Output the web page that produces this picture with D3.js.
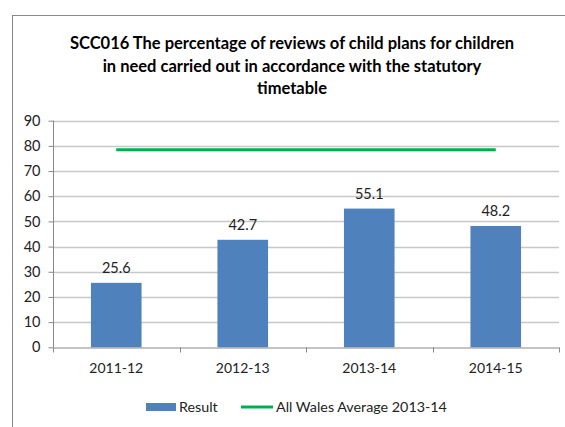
<!DOCTYPE html>
<html><head><meta charset="utf-8">
<script src="https://cdn.jsdelivr.net/npm/d3@7"></script>
<style>body{margin:0;background:#fff;} svg{display:block;font-family:Lato, "Open Sans", sans-serif;}</style>
</head><body>
<svg id="c" width="565" height="427"></svg>
<script>
const categories = ["2011-12","2012-13","2013-14","2014-15"];
const results = [25.6, 42.7, 55.1, 48.2];
const walesAverage = 78.5;
const yTicks = [0,10,20,30,40,50,60,70,80,90];
const titleLines = ["SCC016 The percentage of reviews of child plans for children","in need carried out in accordance with the statutory","timetable"];

const svg = d3.select("#c");
svg.append("rect").attr("x",12.5).attr("y",15.5).attr("width",560).attr("height",420)
  .attr("fill","#fff").attr("stroke","#888").attr("stroke-width",1);

const m = {left:53, right:559, top:120.7, bottom:347.3};
const x = d3.scaleBand().domain(categories).range([m.left, m.right]).paddingInner(0.6).paddingOuter(0.3);
const xc = d3.scaleBand().domain(categories).range([m.left, m.right]);
const y = d3.scaleLinear().domain([0,90]).range([m.bottom, m.top]);

// title
svg.append("text").attr("text-anchor","middle").attr("font-weight","bold").attr("font-size",16.5).attr("fill","#000")
  .selectAll("tspan").data(titleLines).join("tspan")
  .attr("x",292).attr("y",(d,i)=>49+i*22.5).text(d=>d);

// gridlines
svg.append("g").selectAll("line").data(yTicks.filter(d=>d>0)).join("line")
  .attr("x1",m.left).attr("x2",m.right).attr("y1",d=>Math.round(y(d))+0.5).attr("y2",d=>Math.round(y(d))+0.5)
  .attr("stroke","#c8c8c8").attr("stroke-width",1.3);

// y axis
const ya = svg.append("g").attr("transform",`translate(${m.left+0.5},0)`)
  .call(d3.axisLeft(y).tickValues(yTicks).tickSize(5).tickPadding(8));
ya.select(".domain").attr("stroke","#888").attr("d",`M0,${y(90)}V${y(0)}`);
ya.selectAll(".tick line").attr("stroke","#888");
ya.selectAll("text").attr("font-size",14.5).attr("fill","#222").attr("font-family","Lato, 'Open Sans', sans-serif");

// x axis
const xa = svg.append("g").attr("transform",`translate(0,${Math.round(m.bottom)+0.5})`)
  .call(d3.axisBottom(xc).tickSize(0).tickPadding(16));
xa.select(".domain").attr("stroke","#888");
xa.selectAll("text").attr("font-size",14).attr("fill","#222").attr("font-family","Lato, 'Open Sans', sans-serif");
xa.selectAll(".xt").data([...categories.map(c=>xc(c)), m.right]).join("line").attr("class","xt")
  .attr("x1",d=>Math.round(d)+0.5).attr("x2",d=>Math.round(d)+0.5).attr("y1",0).attr("y2",5).attr("stroke","#888");

// bars
svg.append("g").selectAll("rect").data(results).join("rect")
  .attr("x",(d,i)=>x(categories[i])).attr("width",x.bandwidth())
  .attr("y",d=>y(d)).attr("height",d=>y(0)-y(d)).attr("fill","#4F81BD");

// labels
svg.append("g").selectAll("text").data(results).join("text")
  .attr("x",(d,i)=>x(categories[i])+x.bandwidth()/2).attr("y",d=>y(d)-10)
  .attr("text-anchor","middle").attr("font-size",14.5).attr("fill","#222").text(d=>d.toFixed(1));

// average line
svg.append("line").attr("x1",xc(categories[0])+xc.bandwidth()/2).attr("x2",xc(categories[3])+xc.bandwidth()/2)
  .attr("y1",y(walesAverage)).attr("y2",y(walesAverage)).attr("stroke","#00B050").attr("stroke-width",3);

// legend
const lg = svg.append("g");
lg.append("rect").attr("x",146).attr("y",403).attr("width",30).attr("height",8).attr("fill","#4F81BD");
lg.append("text").attr("x",179).attr("y",412).attr("font-size",14.3).attr("fill","#222").text("Result");
lg.append("line").attr("x1",241).attr("x2",273).attr("y1",407).attr("y2",407).attr("stroke","#00B050").attr("stroke-width",3);
lg.append("text").attr("x",276).attr("y",412).attr("font-size",14.3).attr("fill","#222").text("All Wales Average 2013-14");
</script>
</body></html>
